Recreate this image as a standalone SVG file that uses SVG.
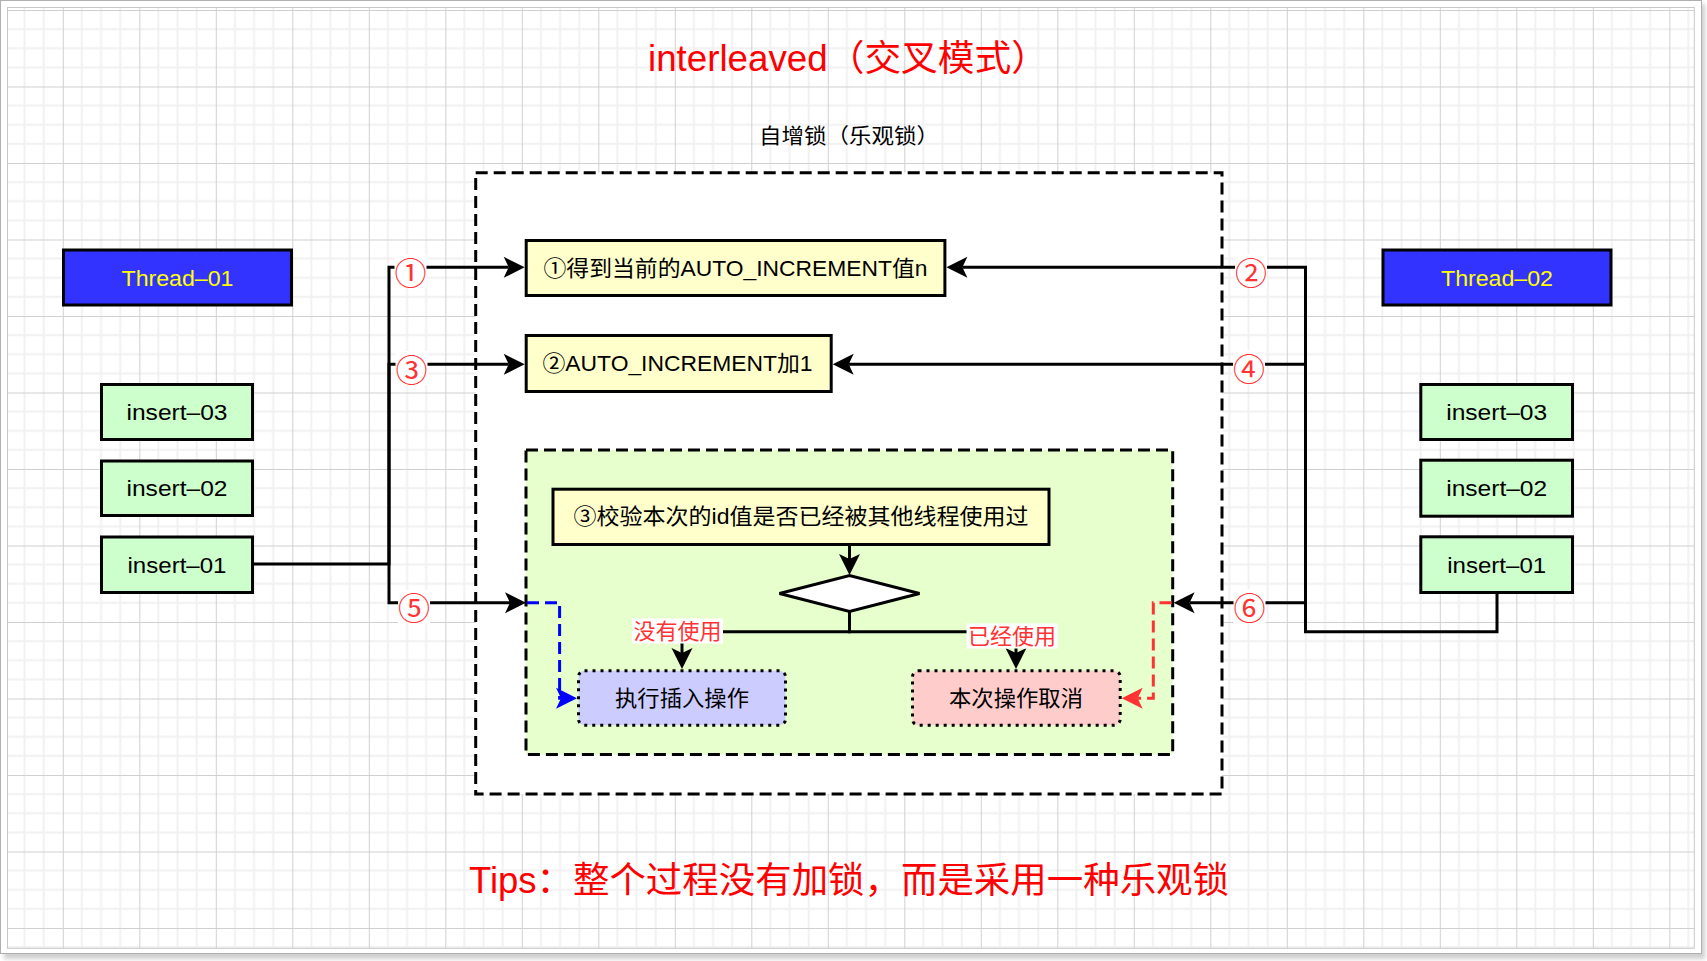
<svg xmlns="http://www.w3.org/2000/svg" width="1707" height="961" viewBox="0 0 1707 961">
<style>
.t{font-family:"Liberation Sans","Noto Sans CJK SC",sans-serif;}
.box{stroke:#000;stroke-width:3;}
.ln{fill:none;stroke:#000;stroke-width:3;}
.num{font-family:"Noto Sans CJK SC","Liberation Sans",sans-serif;font-size:32px;fill:#FF3333;text-anchor:middle;dominant-baseline:central;}
.bt{font-size:22px;fill:#000;text-anchor:middle;dominant-baseline:central;}
.bg{fill:#fff;}
</style>
<defs>
<pattern id="grid" patternUnits="userSpaceOnUse" x="62.8" y="10" width="76.5" height="76.5">
<path d="M19.125,0V76.5M38.25,0V76.5M57.375,0V76.5M0,19.125H76.5M0,38.25H76.5M0,57.375H76.5" stroke="#f1f1f1" stroke-width="2"/>
<path d="M0.5,0V76.5M0,0.5H76.5" stroke="#d0d0d0" stroke-width="1"/>
</pattern>
<filter id="sh" x="-2%" y="-2%" width="104%" height="104%"><feGaussianBlur stdDeviation="2"/></filter>
<marker id="ab" viewBox="0 -12 22 24" refX="5" refY="0" markerWidth="22" markerHeight="24" markerUnits="userSpaceOnUse" orient="auto" overflow="visible"><path d="M0,-10.5 L21,0 L0,10.5 L5,0 Z" fill="#000"/></marker>
<marker id="abl" viewBox="0 -12 22 24" refX="5" refY="0" markerWidth="22" markerHeight="24" markerUnits="userSpaceOnUse" orient="auto" overflow="visible"><path d="M0,-10.5 L21,0 L0,10.5 L5,0 Z" fill="#0000FF"/></marker>
<marker id="ar" viewBox="0 -12 22 24" refX="5" refY="0" markerWidth="22" markerHeight="24" markerUnits="userSpaceOnUse" orient="auto" overflow="visible"><path d="M0,-10.5 L21,0 L0,10.5 L5,0 Z" fill="#FF3333"/></marker>
</defs>

<g id="canvas">
<rect x="4" y="4" width="1701" height="955" fill="#cfcfcf" filter="url(#sh)"/>
<rect x="0.5" y="0.5" width="1701" height="953" fill="#fff" stroke="#b0b0b0" stroke-width="1"/>
<rect x="7.5" y="7.5" width="1686.8" height="940.8" fill="url(#grid)" stroke="#c8c8c8" stroke-width="1"/>
</g>

<g id="title"><text class="t" x="848" y="70.7" font-size="36" fill="#FF0000" text-anchor="middle" textLength="400" lengthAdjust="spacingAndGlyphs">interleaved（交叉模式）</text></g>
<g id="lock-label"><text class="t" x="849" y="143" font-size="21" fill="#000" text-anchor="middle" textLength="180" lengthAdjust="spacingAndGlyphs">自增锁（乐观锁）</text></g>

<g id="outer-container"><rect x="475.7" y="172.7" width="746.3" height="621.3" fill="#fff" stroke="#000" stroke-width="3" stroke-dasharray="12 6"/></g>
<g id="check-container"><rect x="526" y="450" width="646.7" height="304.5" fill="#E6FFCC" stroke="#000" stroke-width="3" stroke-dasharray="12 6"/></g>

<g id="connectors">
<path class="ln" d="M254,564 H389 V267.3 H508.7" marker-end="url(#ab)"/>
<path class="ln" d="M389,564 V364.3 H508.7" marker-end="url(#ab)"/>
<path class="ln" d="M389,564 V602.7 H510" marker-end="url(#ab)"/>
<path class="ln" d="M1497,594 V631.7 H1305.5 V267.3 H962.4" marker-end="url(#ab)"/>
<path class="ln" d="M1305.5,631.7 V364.3 H848.7" marker-end="url(#ab)"/>
<path class="ln" d="M1305.5,631.7 V602.7 H1189.6" marker-end="url(#ab)"/>
<path class="ln" d="M849.5,546 V559" marker-end="url(#ab)"/>
<path class="ln" d="M849.5,612 V631.7 H682 V653" marker-end="url(#ab)"/>
<path class="ln" d="M849.5,612 V631.7 H1016 V653" marker-end="url(#ab)"/>
<path d="M527,602.7 H559.6 V698.3 H561" fill="none" stroke="#0000FF" stroke-width="3" stroke-dasharray="12 6" marker-end="url(#abl)"/>
<path d="M1171.5,602.7 H1153.3 V698.3 H1137.7" fill="none" stroke="#FF3333" stroke-width="3" stroke-dasharray="12 6" marker-end="url(#ar)"/>
<g id="edge-labels">
<rect class="bg" x="394.5" y="254" width="32" height="34"/><text class="num" x="410.5" y="271">①</text>
<rect class="bg" x="395.5" y="351" width="32" height="34"/><text class="num" x="411.5" y="367.5">③</text>
<rect class="bg" x="398" y="590" width="32" height="34"/><text class="num" x="414" y="606">⑤</text>
<rect class="bg" x="1235" y="254" width="32" height="34"/><text class="num" x="1251" y="271">②</text>
<rect class="bg" x="1233" y="350" width="32" height="34"/><text class="num" x="1249" y="367">④</text>
<rect class="bg" x="1233.5" y="589" width="32" height="34"/><text class="num" x="1249.5" y="605.5">⑥</text>
<rect class="bg" x="632" y="618.5" width="91" height="25"/><text class="t" x="677.4" y="631" font-size="22" fill="#FF3333" text-anchor="middle" dominant-baseline="central" textLength="88" lengthAdjust="spacingAndGlyphs">没有使用</text>
<rect class="bg" x="966.5" y="623.5" width="91" height="25"/><text class="t" x="1012" y="636" font-size="22" fill="#FF3333" text-anchor="middle" dominant-baseline="central" textLength="88" lengthAdjust="spacingAndGlyphs">已经使用</text>
</g>
</g>

<g id="thread-01"><rect class="box" x="63.5" y="250" width="228" height="55" fill="#3333FF"/><text class="t bt" x="177.5" y="278" style="fill:#FFFF00" textLength="112" lengthAdjust="spacingAndGlyphs">Thread–01</text></g>
<g id="thread-02"><rect class="box" x="1383" y="250" width="228" height="55" fill="#3333FF"/><text class="t bt" x="1497" y="278" style="fill:#FFFF00" textLength="112" lengthAdjust="spacingAndGlyphs">Thread–02</text></g>

<g id="l-insert-03"><rect class="box" x="101.5" y="384.5" width="151" height="55" fill="#CCFFCC"/><text class="t bt" x="177" y="412.5" textLength="101" lengthAdjust="spacingAndGlyphs">insert–03</text></g>
<g id="l-insert-02"><rect class="box" x="101.5" y="461" width="151" height="54.5" fill="#CCFFCC"/><text class="t bt" x="177" y="488.5" textLength="101" lengthAdjust="spacingAndGlyphs">insert–02</text></g>
<g id="l-insert-01"><rect class="box" x="101.5" y="537" width="151" height="55.5" fill="#CCFFCC"/><text class="t bt" x="177" y="565" textLength="99" lengthAdjust="spacingAndGlyphs">insert–01</text></g>

<g id="r-insert-03"><rect class="box" x="1420.8" y="384.5" width="151.7" height="55" fill="#CCFFCC"/><text class="t bt" x="1496.7" y="412.5" textLength="101" lengthAdjust="spacingAndGlyphs">insert–03</text></g>
<g id="r-insert-02"><rect class="box" x="1420.8" y="460.2" width="151.7" height="56" fill="#CCFFCC"/><text class="t bt" x="1496.7" y="488.5" textLength="101" lengthAdjust="spacingAndGlyphs">insert–02</text></g>
<g id="r-insert-01"><rect class="box" x="1420.8" y="536.8" width="151.7" height="55.7" fill="#CCFFCC"/><text class="t bt" x="1496.7" y="565" textLength="99" lengthAdjust="spacingAndGlyphs">insert–01</text></g>

<g id="step1"><rect class="box" x="526.2" y="240.5" width="418.7" height="55" fill="#FFFFCC"/><text class="t bt" x="735.5" y="268" textLength="384" lengthAdjust="spacingAndGlyphs">①得到当前的AUTO_INCREMENT值n</text></g>
<g id="step2"><rect class="box" x="526.2" y="335.5" width="305" height="56" fill="#FFFFCC"/><text class="t bt" x="677.5" y="363.5" textLength="270" lengthAdjust="spacingAndGlyphs">②AUTO_INCREMENT加1</text></g>
<g id="step3"><rect class="box" x="553" y="489.2" width="496" height="55.3" fill="#FFFFCC"/><text class="t bt" x="801" y="516.5" textLength="455" lengthAdjust="spacingAndGlyphs">③校验本次的id值是否已经被其他线程使用过</text></g>

<g id="decision"><path class="box" d="M779.5,593.5 L849.5,575.5 L919.5,593.5 L849.5,611.5 Z" fill="#fff"/></g>

<g id="do-insert"><rect x="578.5" y="670.8" width="207" height="54.4" rx="6" fill="#CCCCFF" stroke="#000" stroke-width="3" stroke-dasharray="3 5"/><text class="t bt" x="682" y="698" textLength="134" lengthAdjust="spacingAndGlyphs">执行插入操作</text></g>
<g id="cancel"><rect x="912.5" y="670.8" width="207.7" height="54.4" rx="6" fill="#FFCCCC" stroke="#000" stroke-width="3" stroke-dasharray="3 5"/><text class="t bt" x="1016" y="698" textLength="134" lengthAdjust="spacingAndGlyphs">本次操作取消</text></g>

<g id="tips"><text class="t" x="849" y="893" font-size="36" fill="#FF0000" text-anchor="middle" textLength="760" lengthAdjust="spacingAndGlyphs">Tips：整个过程没有加锁，而是采用一种乐观锁</text></g>
</svg>
